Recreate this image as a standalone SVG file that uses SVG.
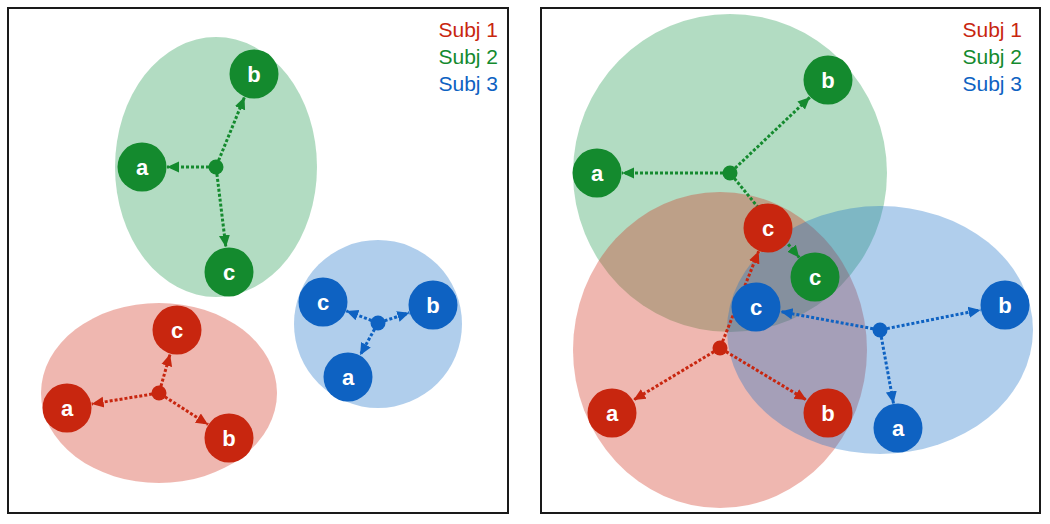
<svg xmlns="http://www.w3.org/2000/svg" width="1050" height="524" viewBox="0 0 1050 524">
<defs>
<style>
.frame{fill:#fff;stroke:#1a1a1a;stroke-width:2}
.er{fill:#d0321e;fill-opacity:0.35}
.eg{fill:#239b51;fill-opacity:0.35}
.eb{fill:#1d73c9;fill-opacity:0.35}
.nr{fill:#c8260f}
.ng{fill:#148a2e}
.nb{fill:#0e62c2}
.lbl{font-family:"Liberation Sans",Arial,sans-serif;font-weight:bold;font-size:22px;fill:#fff;text-anchor:middle}
.leg{font-family:"Liberation Sans",Arial,sans-serif;font-size:21px;text-anchor:end}
.cr{stroke:#c8260f;stroke-width:3;stroke-dasharray:3 2;fill:none;marker-end:url(#ar)}
.cg{stroke:#148a2e;stroke-width:3;stroke-dasharray:3 2;fill:none;marker-end:url(#ag)}
.cb{stroke:#0e62c2;stroke-width:3;stroke-dasharray:3 2;fill:none;marker-end:url(#ab)}
</style>
<marker id="ar" markerUnits="userSpaceOnUse" markerWidth="14" markerHeight="14" refX="12" refY="7" orient="auto"><path d="M0,1.5 L12,7 L0,12.5 z" fill="#c8260f"/></marker>
<marker id="ag" markerUnits="userSpaceOnUse" markerWidth="14" markerHeight="14" refX="12" refY="7" orient="auto"><path d="M0,1.5 L12,7 L0,12.5 z" fill="#148a2e"/></marker>
<marker id="ab" markerUnits="userSpaceOnUse" markerWidth="14" markerHeight="14" refX="12" refY="7" orient="auto"><path d="M0,1.5 L12,7 L0,12.5 z" fill="#0e62c2"/></marker>
</defs>

<!-- Left panel -->
<g id="left-panel">
<rect class="frame" x="8" y="8" width="500" height="505"/>
<ellipse class="eg" cx="216" cy="167" rx="101" ry="130"/>
<ellipse class="er" cx="159" cy="393" rx="118" ry="90"/>
<ellipse class="eb" cx="378" cy="324" rx="84" ry="84"/>
<text class="leg" x="498" y="37" fill="#c8260f">Subj 1</text>
<text class="leg" x="498" y="64" fill="#148a2e">Subj 2</text>
<text class="leg" x="498" y="91" fill="#0e62c2">Subj 3</text>
</g>
<g id="left-connectors">
<line class="cg" x1="209" y1="167" x2="167" y2="167"/>
<line class="cg" x1="218.6" y1="160.5" x2="244.5" y2="97.1"/>
<line class="cg" x1="216.9" y1="173.9" x2="225.9" y2="247.2"/>
<line class="cr" x1="152.1" y1="394.1" x2="91.7" y2="404"/>
<line class="cr" x1="164.9" y1="396.8" x2="208" y2="424.5"/>
<line class="cr" x1="160.9" y1="386.3" x2="170.1" y2="354"/>
<line class="cb" x1="371.5" y1="320.5" x2="346.3" y2="310.9"/>
<line class="cb" x1="384.6" y1="320.8" x2="409.3" y2="312.8"/>
<line class="cb" x1="374.6" y1="329.1" x2="360.1" y2="355.2"/>
</g>
<g id="L-g-hub"><circle class="ng" cx="216" cy="167" r="7.5"/></g>
<g id="L-g-a"><circle class="ng" cx="142" cy="167" r="24.5"/><text class="lbl" x="142" y="175">a</text></g>
<g id="L-g-b"><circle class="ng" cx="254" cy="74" r="24.5"/><text class="lbl" x="254" y="82">b</text></g>
<g id="L-g-c"><circle class="ng" cx="229" cy="272" r="24.5"/><text class="lbl" x="229" y="280">c</text></g>
<g id="L-r-hub"><circle class="nr" cx="159" cy="393" r="7.5"/></g>
<g id="L-r-a"><circle class="nr" cx="67" cy="408" r="24.5"/><text class="lbl" x="67" y="416">a</text></g>
<g id="L-r-b"><circle class="nr" cx="229" cy="438" r="24.5"/><text class="lbl" x="229" y="446">b</text></g>
<g id="L-r-c"><circle class="nr" cx="177" cy="330" r="24.5"/><text class="lbl" x="177" y="338">c</text></g>
<g id="L-b-hub"><circle class="nb" cx="378" cy="323" r="7.5"/></g>
<g id="L-b-a"><circle class="nb" cx="348" cy="377" r="24.5"/><text class="lbl" x="348" y="385">a</text></g>
<g id="L-b-b"><circle class="nb" cx="433" cy="305" r="24.5"/><text class="lbl" x="433" y="313">b</text></g>
<g id="L-b-c"><circle class="nb" cx="323" cy="302" r="24.5"/><text class="lbl" x="323" y="310">c</text></g>

<!-- Right panel -->
<g id="right-panel">
<rect class="frame" x="541" y="8" width="499" height="505"/>
<ellipse class="eg" cx="730" cy="173" rx="157" ry="159"/>
<ellipse class="er" cx="720" cy="350" rx="147" ry="158"/>
<ellipse class="eb" cx="880" cy="330" rx="153" ry="124"/>
<text class="leg" x="1022" y="37" fill="#c8260f">Subj 1</text>
<text class="leg" x="1022" y="64" fill="#148a2e">Subj 2</text>
<text class="leg" x="1022" y="91" fill="#0e62c2">Subj 3</text>
</g>
<g id="right-connectors">
<line class="cg" x1="723" y1="173" x2="622" y2="173"/>
<line class="cg" x1="735.1" y1="168.2" x2="809.9" y2="97.2"/>
<line class="cg" x1="734.4" y1="178.4" x2="799.2" y2="257.6"/>
<line class="cr" x1="714" y1="351.6" x2="633.4" y2="400.1"/>
<line class="cr" x1="726" y1="351.6" x2="806.6" y2="400.1"/>
<line class="cr" x1="722.6" y1="341.5" x2="758.7" y2="251.2"/>
<line class="cb" x1="873.1" y1="328.7" x2="780.6" y2="311.6"/>
<line class="cb" x1="886.9" y1="328.6" x2="980.5" y2="309.9"/>
<line class="cb" x1="881.3" y1="336.9" x2="893.5" y2="403.4"/>
</g>
<g id="R-g-hub"><circle class="ng" cx="730" cy="173" r="7.5"/></g>
<g id="R-g-a"><circle class="ng" cx="597" cy="173" r="24.5"/><text class="lbl" x="597" y="181">a</text></g>
<g id="R-g-b"><circle class="ng" cx="828" cy="80" r="24.5"/><text class="lbl" x="828" y="88">b</text></g>
<g id="R-g-c"><circle class="ng" cx="815" cy="277" r="24.5"/><text class="lbl" x="815" y="285">c</text></g>
<g id="R-r-hub"><circle class="nr" cx="720" cy="348" r="7.5"/></g>
<g id="R-r-a"><circle class="nr" cx="612" cy="413" r="24.5"/><text class="lbl" x="612" y="421">a</text></g>
<g id="R-r-b"><circle class="nr" cx="828" cy="413" r="24.5"/><text class="lbl" x="828" y="421">b</text></g>
<g id="R-r-c"><circle class="nr" cx="768" cy="228" r="24.5"/><text class="lbl" x="768" y="236">c</text></g>
<g id="R-b-hub"><circle class="nb" cx="880" cy="330" r="7.5"/></g>
<g id="R-b-a"><circle class="nb" cx="898" cy="428" r="24.5"/><text class="lbl" x="898" y="436">a</text></g>
<g id="R-b-b"><circle class="nb" cx="1005" cy="305" r="24.5"/><text class="lbl" x="1005" y="313">b</text></g>
<g id="R-b-c"><circle class="nb" cx="756" cy="307" r="24.5"/><text class="lbl" x="756" y="315">c</text></g>
</svg>
